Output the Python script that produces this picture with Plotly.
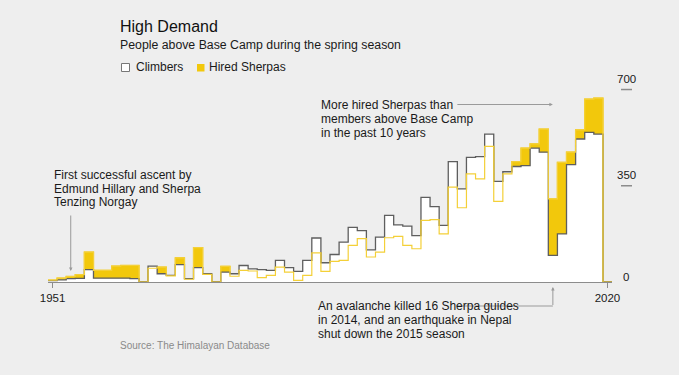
import plotly.graph_objects as go

# ---------------- data ----------------
years = [1951, 1952, 1953, 1954, 1955, 1956, 1957, 1958, 1959, 1960,
         1969, 1970, 1971, 1972, 1973, 1974, 1975, 1976, 1977, 1978,
         1979, 1980, 1981, 1982, 1983, 1984, 1985, 1986, 1987, 1988,
         1989, 1990, 1991, 1992, 1993, 1994, 1995, 1996, 1997, 1998,
         1999, 2000, 2001, 2002, 2003, 2004, 2005, 2006, 2007, 2008,
         2009, 2010, 2011, 2012, 2013, 2014, 2015, 2016, 2017, 2018,
         2019, 2020]

climbers = [5, 8, 12, 13, 45, 14, 14, 14, 14, 12,
            0, 58, 30, 24, 63, 12, 52, 30, 0, 36,
            30, 60, 48, 45, 42, 79, 52, 39, 79, 160,
            70, 100, 145, 199, 187, 117, 163, 242, 208, 203,
            169, 308, 274, 206, 438, 339, 453, 456, 538, 366,
            401, 420, 423, 487, 472, 97, 175, 427, 520, 544,
            538, 0]

sherpas = [7, 14, 20, 27, 109, 42, 42, 58, 60, 60,
           0, 50, 54, 22, 88, 10, 125, 28, 0, 57,
           21, 42, 40, 16, 24, 54, 36, 6, 24, 106,
           39, 75, 79, 133, 158, 91, 109, 161, 166, 133,
           121, 224, 227, 175, 345, 270, 393, 375, 493, 293,
           393, 438, 487, 502, 556, 302, 435, 472, 553, 665,
           669, 0]

y_ticks = [0, 350, 700]

# ---------------- styling ----------------
BG = "#eeeeee"
YEL = "#f2c80c"
YEL_LINE = "#f4d038"
GRAY = "#5e5e5e"
AXIS = "#8c8c8c"
TXT = "#1a1a1a"
FONT = "Liberation Sans, Arial, sans-serif"

W, H = 679, 375
L, R, T, B = 48, 612, 81, 282          # plot area in pixels
PW, PH = R - L, B - T
YMAX = 731
TX = -2                                # annotation text padding offset


def px(x):
    return (x - L) / PW


def py(y):
    return (B - y) / PH


N = len(years)
idx = list(range(N))
xs = [i - 0.5 for i in idx] + [N - 0.5]
c_ext = climbers + [climbers[-1]]
s_ext = sherpas + [sherpas[-1]]

fig = go.Figure()
fig.add_trace(go.Scatter(x=xs, y=s_ext, mode="lines",
                         line=dict(shape="hv", color=YEL, width=1.3),
                         fill="tozeroy", fillcolor=YEL, hoverinfo="skip",
                         showlegend=False))
fig.add_trace(go.Scatter(x=xs, y=c_ext, mode="lines",
                         line=dict(shape="hv", color=GRAY, width=1.3),
                         fill="tozeroy", fillcolor="#ffffff", hoverinfo="skip",
                         showlegend=False))
fig.add_trace(go.Scatter(x=xs, y=s_ext, mode="lines",
                         line=dict(shape="hv", color=YEL_LINE, width=1.2),
                         hoverinfo="skip", showlegend=False))

annotations = []
shapes = []


def text(x, y, s, size=12, color=TXT, anchor="left"):
    annotations.append(dict(x=px(x + TX), y=py(y), xref="paper", yref="paper",
                            text=s, showarrow=False, xanchor=anchor,
                            yanchor="middle",
                            font=dict(size=size, color=color, family=FONT)))


# title block
text(120, 26, "High Demand", size=16, color="#111111")
text(120, 45, "People above Base Camp during the spring season", size=12.3,
     color="#1a1a1a")

# legend
shapes.append(dict(type="rect", xref="paper", yref="paper",
                   x0=px(121.5), x1=px(129.5), y0=py(71.5), y1=py(63.5),
                   line=dict(color="#777777", width=1), fillcolor="#ffffff"))
text(136, 67.5, "Climbers", size=12)
shapes.append(dict(type="rect", xref="paper", yref="paper",
                   x0=px(197), x1=px(204.5), y0=py(71.5), y1=py(64),
                   line=dict(color=YEL, width=0), fillcolor=YEL))
text(209, 67.5, "Hired Sherpas", size=12)

# right-hand value labels and tick marks
for v in y_ticks:
    annotations.append(dict(x=px(626), y=v, xref="paper", yref="y",
                            text=str(v), showarrow=False, xanchor="center",
                            yanchor="middle", yshift=11 if v else 5,
                            font=dict(size=11.5, color=TXT, family=FONT)))
    if v:
        shapes.append(dict(type="line", xref="paper", yref="y",
                           x0=px(621), x1=px(632), y0=v, y1=v,
                           line=dict(color=AXIS, width=1.5)))

# annotation: first ascent
for i, s in enumerate(["First successful ascent by",
                       "Edmund Hillary and Sherpa",
                       "Tenzing Norgay"]):
    text(54, 175 + i * 13.5, s)
annotations.append(dict(x=years.index(1953), y=40, xref="x", yref="y",
                        text="", showarrow=True, ax=0, ay=-57,
                        arrowhead=2, arrowsize=0.7, arrowwidth=1,
                        arrowcolor="#9a9a9a"))

# annotation: more hired sherpas
for i, s in enumerate(["More hired Sherpas than",
                       "members above Base Camp",
                       "in the past 10 years"]):
    text(321, 104.5 + i * 14, s)
annotations.append(dict(x=years.index(2014), y=(B - 104.5) / PH * YMAX,
                        xref="x", yref="y", text="", showarrow=True,
                        ax=-97, ay=0, arrowhead=2, arrowsize=0.7,
                        arrowwidth=1, arrowcolor="#9a9a9a"))

# annotation: avalanche / earthquake
for i, s in enumerate(["An avalanche killed 16 Sherpa guides",
                       "in 2014, and an earthquake in Nepal",
                       "shut down the 2015 season"]):
    text(318, 306 + i * 14, s)
x2014 = years.index(2014)
shapes.append(dict(type="line", xref="paper", yref="paper",
                   x0=px(456), x1=(x2014 + 0.5) / N, y0=py(306), y1=py(306),
                   line=dict(color="#9a9a9a", width=1)))
annotations.append(dict(x=x2014, y=py(287), xref="x", yref="paper",
                        text="", showarrow=True, ax=0, ay=19.5,
                        arrowhead=2, arrowsize=0.7, arrowwidth=1,
                        arrowcolor="#9a9a9a"))

# source
text(120, 345.5, "Source: The Himalayan Database", size=10, color="#8a8a8a")

fig.update_layout(
    width=W, height=H,
    margin=dict(l=L, r=W - R, t=T, b=H - B, pad=0),
    paper_bgcolor=BG, plot_bgcolor=BG,
    showlegend=False,
    font=dict(family=FONT, color=TXT),
    annotations=annotations,
    shapes=shapes,
    xaxis=dict(range=[-0.5, N - 0.5], tickvals=[0, N - 1],
               ticktext=[str(years[0]), str(years[-1])],
               showline=True, linecolor=AXIS, linewidth=1.2,
               ticks="outside", ticklen=5, tickcolor=AXIS, tickwidth=1.2,
               showgrid=False, zeroline=False,
               tickfont=dict(size=11.5, color=TXT, family=FONT),
               fixedrange=True),
    yaxis=dict(range=[0, YMAX], visible=False, showgrid=False,
               zeroline=False, fixedrange=True),
)

fig.write_html(
    "out.html",
    config={"displayModeBar": False},
    post_script="document.body.style.margin='0';"
                "document.body.style.background='#eeeeee';"
                "document.body.style.overflow='hidden';",
)
